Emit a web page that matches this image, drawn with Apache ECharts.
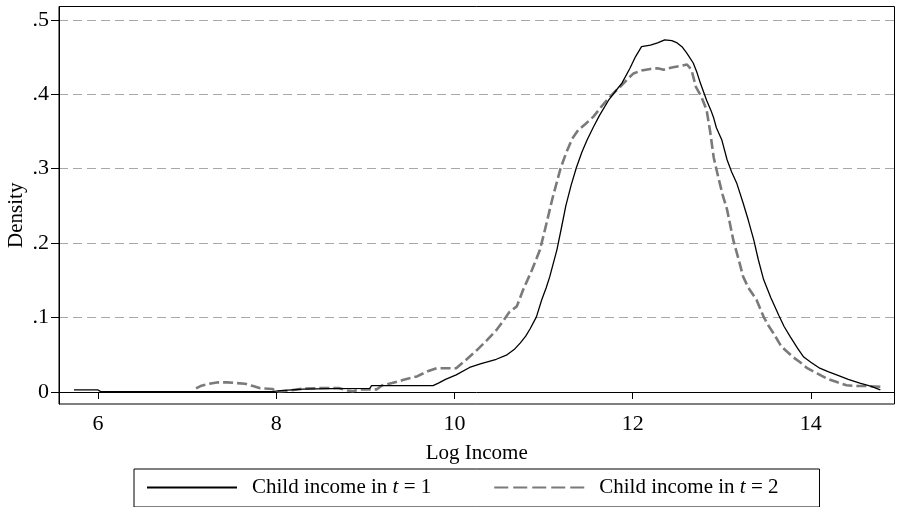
<!DOCTYPE html>
<html>
<head>
<meta charset="utf-8">
<script src="https://cdn.jsdelivr.net/npm/echarts@6/dist/echarts.min.js"></script>
<style>html,body{margin:0;padding:0;background:#fff}#c{width:897px;height:507px}</style>
</head>
<body>
<div id="c"></div>
<script>
// ---- data ----
var xTicks = [6, 8, 10, 12, 14];
var yTicks = [0, 0.1, 0.2, 0.3, 0.4, 0.5];
var yTickLabels = ['0', '.1', '.2', '.3', '.4', '.5'];
var seriesNames = ['Child income in t = 1', 'Child income in t = 2'];

var income1 = [
[5.73,0.003],[5.95,0.003],[6.0,0.0028],[6.03,0.0005],[7.0,0.0005],[7.95,0.0005],[8.05,0.002],[8.3,0.004],[8.6,0.0045],[9.05,0.005],
[9.07,0.0085],[9.4,0.0085],[9.76,0.0085],[9.82,0.012],[9.9,0.017],[10.02,0.023],[10.17,0.033],[10.3,0.038],[10.47,0.044],[10.59,0.05],
[10.67,0.057],[10.74,0.066],[10.8,0.075],[10.85,0.085],[10.92,0.101],[10.98,0.124],[11.03,0.14],[11.07,0.155],[11.15,0.191],[11.2,0.22],
[11.25,0.25],[11.31,0.278],[11.37,0.302],[11.43,0.322],[11.49,0.339],[11.56,0.356],[11.63,0.372],[11.73,0.392],[11.8,0.403],[11.88,0.415],
[11.97,0.435],[12.03,0.45],[12.1,0.464],[12.2,0.466],[12.28,0.469],[12.36,0.473],[12.44,0.472],[12.5,0.469],[12.56,0.463],[12.61,0.455],
[12.68,0.442],[12.72,0.43],[12.76,0.415],[12.83,0.392],[12.88,0.378],[12.91,0.368],[12.94,0.355],[13.0,0.339],[13.06,0.312],[13.11,0.296],
[13.17,0.28],[13.24,0.254],[13.3,0.23],[13.36,0.204],[13.41,0.178],[13.47,0.151],[13.55,0.127],[13.64,0.103],[13.7,0.088],[13.77,0.074],
[13.85,0.059],[13.92,0.047],[14.0,0.04],[14.1,0.032],[14.2,0.027],[14.29,0.023],[14.42,0.017],[14.55,0.012],[14.67,0.008],[14.78,0.003]
];

var income2 = [
[7.1,0.005],[7.15,0.008],[7.25,0.011],[7.35,0.013],[7.45,0.013],[7.55,0.012],[7.65,0.011],[7.74,0.008],[7.82,0.005],[7.96,0.004],
[8.0,0.0005],[8.15,0.002],[8.3,0.0045],[8.5,0.0054],[8.7,0.0054],[8.8,0.002],[8.86,0.001],[8.95,0.0036],[9.13,0.0036],[9.19,0.009],
[9.3,0.012],[9.42,0.016],[9.58,0.021],[9.7,0.028],[9.8,0.032],[10.02,0.032],[10.12,0.042],[10.25,0.056],[10.36,0.069],[10.47,0.083],
[10.55,0.096],[10.62,0.108],[10.7,0.115],[10.77,0.137],[10.87,0.164],[10.96,0.191],[11.03,0.225],[11.1,0.26],[11.19,0.3],[11.25,0.32],
[11.32,0.34],[11.39,0.352],[11.47,0.36],[11.56,0.37],[11.64,0.382],[11.71,0.392],[11.79,0.402],[11.86,0.41],[11.94,0.42],[12.01,0.428],
[12.1,0.432],[12.2,0.434],[12.28,0.435],[12.35,0.433],[12.44,0.436],[12.53,0.438],[12.61,0.44],[12.66,0.433],[12.71,0.41],[12.77,0.397],
[12.83,0.379],[12.87,0.35],[12.91,0.315],[12.96,0.289],[13.01,0.265],[13.06,0.245],[13.13,0.204],[13.19,0.178],[13.24,0.155],[13.3,0.14],
[13.39,0.124],[13.47,0.101],[13.52,0.09],[13.58,0.079],[13.67,0.061],[13.8,0.047],[13.88,0.04],[13.96,0.032],[14.07,0.025],[14.18,0.018],
[14.3,0.013],[14.4,0.009],[14.5,0.008],[14.63,0.008],[14.8,0.007]
];

// ---- chart ----
var FONT = 'Liberation Serif';
var chart = echarts.init(document.getElementById('c'), null, {renderer: 'canvas'});
chart.setOption({
  backgroundColor: '#fff',
  animation: false,
  grid: {left: 59, right: 2.5, top: 6.5, bottom: 103, show: true, borderColor: '#000', borderWidth: 1,
    containLabel: false, outerBoundsMode: 'none'},
  xAxis: {
    type: 'value', min: 5.562, max: 14.939,
    name: 'Log Income', nameLocation: 'middle', nameGap: 39, nameMoveOverlap: false,
    nameTextStyle: {fontFamily: FONT, fontSize: 21, color: '#000'},
    axisLine: {show: true, lineStyle: {color: '#000', width: 1}},
    axisTick: {show: true, customValues: xTicks, length: 7, lineStyle: {color: '#000'}},
    axisLabel: {customValues: xTicks, fontFamily: FONT, fontSize: 22, color: '#000', margin: 9},
    splitLine: {show: false}
  },
  yAxis: {
    type: 'value', min: -0.0161, max: 0.5179,
    name: 'Density', nameLocation: 'middle', nameGap: 32, nameRotate: 90, nameMoveOverlap: false,
    nameTextStyle: {fontFamily: FONT, fontSize: 21, color: '#000', padding: [0, 20, 0, 0]},
    axisLine: {show: true, lineStyle: {color: '#000', width: 1}},
    axisTick: {show: true, customValues: yTicks, length: 8, lineStyle: {color: '#000'}},
    axisLabel: {customValues: yTicks, fontFamily: FONT, fontSize: 22, color: '#000', margin: 10,
      formatter: function (v) { var i = yTicks.indexOf(v); return i >= 0 ? yTickLabels[i] : ''; }},
    splitLine: {show: true, lineStyle: {color: '#a8a8a8', width: 1, type: [9, 5]}}
  },
  legend: {
    show: true, left: 134, top: 469, orient: 'horizontal',
    padding: [8, 41, 9, 12], itemGap: 62, itemWidth: 90, itemHeight: 14,
    borderColor: '#000', borderWidth: 1, backgroundColor: '#fff',
    itemStyle: {opacity: 0},
    data: [
      {name: seriesNames[0]},
      {name: seriesNames[1], lineStyle: {type: [14, 5]}}
    ],
    formatter: function (name) {
      var n = name.slice(-1);
      return '{a|Child income in }{i|t}{a| = ' + n + '}';
    },
    textStyle: {fontFamily: FONT, fontSize: 21, color: '#000', padding: [0, 0, 0, 10],
      rich: {a: {fontFamily: FONT, fontSize: 21, color: '#000'}, i: {fontFamily: FONT, fontSize: 21, color: '#000', fontStyle: 'italic'}}}
  },
  series: [
    {name: seriesNames[0], type: 'line', data: income1, symbol: 'none', showSymbol: false, smooth: false,
      lineStyle: {color: '#000', width: 1.3}, itemStyle: {color: '#000'}, z: 3},
    {name: seriesNames[1], type: 'line', data: income2, symbol: 'none', showSymbol: false, smooth: false,
      lineStyle: {color: '#7a7a7a', width: 2.6, type: [10, 4]}, itemStyle: {color: '#7a7a7a'}, z: 2}
  ]
});
</script>
</body>
</html>
